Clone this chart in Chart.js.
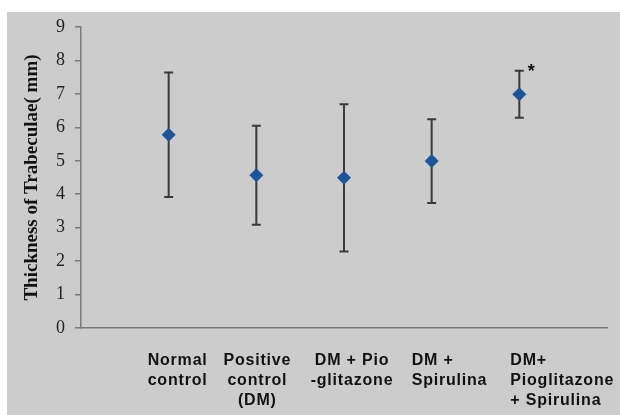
<!DOCTYPE html>
<html>
<head>
<meta charset="utf-8">
<script src="https://cdn.jsdelivr.net/npm/chart.js@4"></script>
<style>
  body { margin: 0; background: #fff; }
</style>
</head>
<body>
<canvas id="trabChart" width="620" height="415"></canvas>
<script>
// group labels (one line per entry)
const groups = [
    ["Normal", "control"],
    ["Positive", "control", "(DM)"],
    ["DM + Pio", "-glitazone"],
    ["DM +", "Spirulina"],
    ["DM+", "Pioglitazone", "+ Spirulina"]
];
const means = [5.78, 4.57, 4.49, 4.99, 6.99];   // mean thickness (mm)
const sds = [1.86, 1.48, 2.2, 1.25, 0.7];       // error bar half length
const significant = [false, false, false, false, true];
const yTicks = [0, 1, 2, 3, 4, 5, 6, 7, 8, 9];

// how each label block sits under its point
const labelLayout = [
    { align: "left", dx: -21 },
    { align: "center", dx: 1 },
    { align: "center", dx: 8 },
    { align: "left", dx: -20 },
    { align: "left", dx: -9 }
];

const backgroundPlugin = {
    id: "bg",
    beforeDraw(chart) {
        const ctx = chart.ctx;
        ctx.save();
        ctx.fillStyle = "#ffffff";
        ctx.fillRect(0, 0, chart.width, chart.height);
        ctx.fillStyle = "#cccccc";
        ctx.fillRect(7, 12, chart.width - 7, chart.height - 12);
        ctx.restore();
    }
};

const errorBarPlugin = {
    id: "errorBars",
    beforeDatasetsDraw(chart) {
        const ctx = chart.ctx;
        const xs = chart.scales.x, ys = chart.scales.y;
        ctx.save();
        ctx.strokeStyle = "#3a3a3a";
        ctx.lineWidth = 2;
        means.forEach((m, i) => {
            const px = xs.getPixelForValue(i + 1);
            const top = ys.getPixelForValue(m + sds[i]);
            const bot = ys.getPixelForValue(m - sds[i]);
            ctx.beginPath();
            ctx.moveTo(px, top); ctx.lineTo(px, bot);
            ctx.moveTo(px - 4.5, top); ctx.lineTo(px + 4.5, top);
            ctx.moveTo(px - 4.5, bot); ctx.lineTo(px + 4.5, bot);
            ctx.stroke();
            if (significant[i]) {
                ctx.fillStyle = "#111";
                ctx.font = "bold 18px 'Liberation Sans'";
                ctx.textAlign = "center";
                ctx.textBaseline = "top";
                ctx.fillText("*", px + 12, top - 8);
            }
        });
        ctx.restore();
    },
    afterDraw(chart) {
        // category labels under the axis
        const ctx = chart.ctx;
        const xs = chart.scales.x;
        ctx.save();
        ctx.fillStyle = "#111";
        ctx.font = "bold 16px 'Liberation Sans'";
        ctx.letterSpacing = "0.8px";
        ctx.textBaseline = "middle";
        groups.forEach((lines, i) => {
            const lay = labelLayout[i];
            const px = xs.getPixelForValue(i + 1) + lay.dx;
            ctx.textAlign = lay.align;
            lines.forEach((ln, j) => {
                ctx.fillText(ln, px, chart.chartArea.bottom + 33 + j * 20);
            });
        });
        ctx.restore();
    }
};

const ctx = document.getElementById("trabChart").getContext("2d");
new Chart(ctx, {
    type: "scatter",
    data: {
        datasets: [{
            label: "Thickness",
            data: means.map((m, i) => ({ x: i + 1, y: m })),
            pointStyle: "rectRot",
            pointRadius: 7,
            pointHoverRadius: 7,
            backgroundColor: "#1f5496",
            borderColor: "#1f5496",
            borderWidth: 0
        }]
    },
    options: {
        responsive: false,
        animation: false,
        layout: { padding: { left: 13, top: 27, right: 13, bottom: 0 } },
        plugins: {
            legend: { display: false },
            tooltip: { enabled: false }
        },
        scales: {
            x: {
                type: "linear",
                min: 0,
                max: 6,
                ticks: { display: false },
                grid: { display: false },
                border: { display: true, color: "#7a7a7a", width: 1.5 },
                afterFit: s => { s.height = 87; }
            },
            y: {
                min: 0,
                max: 9,
                afterBuildTicks: s => { s.ticks = yTicks.map(v => ({ value: v })); },
                ticks: {
                    color: "#222",
                    padding: 10,
                    font: { family: "'Liberation Serif'", size: 18 }
                },
                grid: {
                    drawOnChartArea: false,
                    drawTicks: true,
                    tickLength: 6,
                    color: "#7a7a7a",
                    lineWidth: 1.5
                },
                border: { display: true, color: "#7a7a7a", width: 1.5 },
                title: {
                    display: true,
                    text: "Thickness of Trabeculae( mm)",
                    color: "#111",
                    font: { family: "'Liberation Serif'", size: 19, weight: "bold" },
                    padding: { top: 8, bottom: 0 }
                },
                afterFit: s => { s.width = 68; }
            }
        }
    },
    plugins: [backgroundPlugin, errorBarPlugin]
});
</script>
</body>
</html>
